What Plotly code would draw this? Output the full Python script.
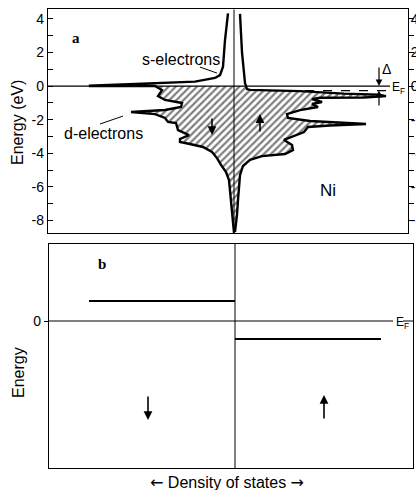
import plotly.graph_objects as go

W, H = 416, 490

# ---------------- Panel a: Ni density of states (arbitrary DOS units) ----------------
# spin-down (drawn to the left, negative), unoccupied part above E_F
e_down_empty = [4.33, 2.74, 1.15, 0.65, 0.48, 0.26, 0.02, 0.0]
dos_down_empty = [-0.6, -0.9, -1.1, -1.4, -1.9, -3.9, -14.4, -14.4]
# spin-down, occupied part (hatched)
e_down = [0.00, -0.24, -0.60, -0.83, -1.01, -1.25, -1.43, -1.55, -1.67, -1.90, -2.14, -2.20,
          -2.62, -2.92, -3.15, -3.33, -3.45, -3.63, -3.93, -4.29, -4.70, -5.12, -5.60, -6.49,
          -7.38, -8.27, -8.75]
dos_down = [-7.9, -7.2, -7.6, -6.9, -5.2, -5.3, -6.9, -10.3, -7.9, -6.9, -6.6, -5.8,
            -5.6, -4.5, -5.4, -5.4, -4.4, -3.1, -2.2, -1.7, -1.3, -0.8, -0.5, -0.35,
            -0.2, -0.05, 0.0]
# spin-up (drawn to the right), s-like part above the d band
e_up_empty = [4.30, 2.00, 0.18, -0.18]
dos_up_empty = [0.6, 0.8, 1.1, 1.3]
# spin-up d band (fully occupied, hatched)
e_up = [-0.23, -0.30, -0.45, -0.52, -0.60, -0.68, -0.70, -0.78, -0.95, -1.07, -1.25, -1.43,
        -1.67, -1.90, -2.08, -2.26, -2.35, -2.44, -2.74, -3.04, -3.21, -3.51, -3.81, -4.05,
        -4.17, -4.40, -4.76, -5.30, -5.89, -6.79, -7.68, -8.69]
dos_up = [1.6, 6.6, 11.0, 14.5, 15.2, 13.0, 8.6, 7.8, 8.8, 7.8, 8.4, 6.6,
          5.3, 5.4, 7.6, 13.2, 9.6, 7.4, 7.0, 5.6, 5.0, 5.8, 5.9, 5.1,
          2.8, 1.6, 0.9, 0.6, 0.5, 0.4, 0.3, 0.1]
exchange_top = -0.27          # top of spin-up d band (dashed line)
energy_ticks = [-8, -6, -4, -2, 0, 2, 4]
energy_ticklabels = ["-8", "-6", "-4", "-2", "0", "2", "4"]

# ---------------- Panel b: schematic ----------------
level_down = 1.0    # spin-down level (above E_F)
level_up = -0.9     # spin-up level (below E_F)
level_width = 14.6

FONT = "Liberation Sans, Arial, sans-serif"
HATCH = dict(shape="/", fgcolor="black", bgcolor="white", size=5, solidity=0.45)

fig = go.Figure()

# hatched fills
fig.add_trace(go.Scatter(
    x=[0] + dos_down + [0], y=[0] + e_down + [e_down[-1]],
    mode="none", fill="toself", fillcolor="white", fillpattern=HATCH,
    xaxis="x", yaxis="y", hoverinfo="skip"))
fig.add_trace(go.Scatter(
    x=[0, 1.15, 1.3] + dos_up + [0], y=[0, 0, -0.18] + e_up + [e_up[-1]],
    mode="none", fill="toself", fillcolor="white", fillpattern=HATCH,
    xaxis="x", yaxis="y", hoverinfo="skip"))

# outlines
fig.add_trace(go.Scatter(
    x=dos_down_empty + dos_down, y=e_down_empty + e_down, mode="lines",
    line=dict(color="black", width=2.4), xaxis="x", yaxis="y", hoverinfo="skip"))
fig.add_trace(go.Scatter(
    x=dos_up_empty + dos_up, y=e_up_empty + e_up, mode="lines",
    line=dict(color="black", width=2.4), xaxis="x", yaxis="y", hoverinfo="skip"))

# dummy trace for right-hand energy axis
fig.add_trace(go.Scatter(x=[0], y=[0], mode="markers", marker=dict(opacity=0),
                         xaxis="x", yaxis="y3", hoverinfo="skip", showlegend=False))

# panel b levels
fig.add_trace(go.Scatter(x=[-level_width, 0], y=[level_down, level_down], mode="lines",
                         line=dict(color="black", width=2), xaxis="x2", yaxis="y2"))
fig.add_trace(go.Scatter(x=[0, level_width], y=[level_up, level_up], mode="lines",
                         line=dict(color="black", width=2), xaxis="x2", yaxis="y2"))

shapes = [
    # panel a: center line, E_F line, dashed line
    dict(type="line", xref="x", yref="y", x0=0, x1=0, y0=-8.77, y1=4.57,
         line=dict(color="black", width=1)),
    dict(type="line", xref="x", yref="y", x0=-18.6, x1=15.6, y0=0, y1=0,
         line=dict(color="black", width=1.2)),
    dict(type="line", xref="x", yref="y", x0=3.5, x1=15.4, y0=exchange_top, y1=exchange_top,
         line=dict(color="black", width=1.2, dash="dash")),
    # leader lines
    dict(type="line", xref="x", yref="y", x0=-3.4, y0=1.13, x1=-1.7, y1=0.77,
         line=dict(color="black", width=1)),
    dict(type="line", xref="x", yref="y", x0=-13.4, y0=-2.26, x1=-11.1, y1=-1.79,
         line=dict(color="black", width=1)),
    # panel b: center line and E_F line
    dict(type="line", xref="x2", yref="y2", x0=0, x1=0, y0=-7.35, y1=3.85,
         line=dict(color="black", width=1)),
    dict(type="line", xref="x2", yref="y2", x0=-18.6, x1=15.8, y0=0, y1=0,
         line=dict(color="black", width=1)),
    dict(type="line", xref="x2", yref="y2", x0=16.8, x1=17.8, y0=0, y1=0,
         line=dict(color="black", width=1)),
]

def arrow(xref, yref, x, y0, y1, width=1.6):
    return dict(xref=xref, yref=yref, axref=xref, ayref=yref, x=x, y=y1, ax=x, ay=y0,
                text="", showarrow=True, arrowhead=2, arrowsize=1.1, arrowwidth=width,
                arrowcolor="black")

annotations = [
    arrow("x", "y", -2.2, -1.85, -2.92),
    arrow("x", "y", 2.6, -2.80, -1.67),
    arrow("x", "y", 14.5, 1.19, 0.0, 1.2),
    arrow("x", "y", 14.5, -1.25, exchange_top, 1.2),
    arrow("x2", "y2", -8.7, -3.7, -4.95),
    arrow("x2", "y2", 8.9, -4.95, -3.7),
    dict(xref="x", yref="y", x=-15.8, y=2.86, text="<b>a</b>", showarrow=False,
         font=dict(family="Liberation Serif, serif", size=15, color="black")),
    dict(xref="x2", yref="y2", x=-13.3, y=2.85, text="<b>b</b>", showarrow=False,
         font=dict(family="Liberation Serif, serif", size=15, color="black")),
    dict(xref="x", yref="y", x=-5.3, y=1.61, text="s-electrons", showarrow=False,
         font=dict(family=FONT, size=16, color="black")),
    dict(xref="x", yref="y", x=-13.1, y=-2.8, text="d-electrons", showarrow=False,
         font=dict(family=FONT, size=16, color="black")),
    dict(xref="x", yref="y", x=9.4, y=-6.25, text="Ni", showarrow=False,
         font=dict(family=FONT, size=17, color="black")),
    dict(xref="x", yref="y", x=15.2, y=1.02, text="Δ", showarrow=False,
         font=dict(family=FONT, size=14, color="black")),
    dict(xref="x", yref="y", x=15.6, y=-0.1, xanchor="left", yanchor="middle",
         text="E<sub>F</sub>", showarrow=False,
         font=dict(family=FONT, size=12, color="black")),
    dict(xref="x2", yref="y2", x=15.85, y=-0.1, xanchor="left", yanchor="middle",
         text="E<sub>F</sub>", showarrow=False,
         font=dict(family=FONT, size=12, color="black")),
    dict(xref="paper", yref="paper", x=17 / W, y=1 - 123 / H, xanchor="center",
         yanchor="middle", text="Energy (eV)", textangle=-90, showarrow=False,
         font=dict(family=FONT, size=16, color="black")),
    dict(xref="paper", yref="paper", x=18 / W, y=1 - 373 / H, xanchor="center",
         yanchor="middle", text="Energy", textangle=-90, showarrow=False,
         font=dict(family=FONT, size=16, color="black")),
    dict(xref="paper", yref="paper", x=227 / W, y=1 - 482 / H, xanchor="center",
         yanchor="middle",
         text="<span style='font-family:DejaVu Sans'>←</span> Density of states "
              "<span style='font-family:DejaVu Sans'>→</span>",
         showarrow=False, font=dict(family=FONT, size=16, color="black")),
]

axis_common = dict(showgrid=False, zeroline=False, linecolor="black", linewidth=1.3,
                   mirror=True, showline=True, automargin=False)

fig.update_layout(
    width=W, height=H, margin=dict(l=0, r=0, t=0, b=0, autoexpand=False),
    paper_bgcolor="white", plot_bgcolor="rgba(0,0,0,0)", showlegend=False,
    xaxis=dict(domain=[48 / W, 408 / W], range=[-18.6, 17.4], showticklabels=False,
               ticks="", anchor="y", **axis_common),
    yaxis=dict(domain=[1 - 233.3 / H, 1 - 9.3 / H], range=[-8.77, 4.57], anchor="x",
               tickvals=energy_ticks, ticktext=energy_ticklabels, ticks="inside", ticklen=5,
               tickwidth=1.2, tickcolor="black",
               minor=dict(dtick=1, tick0=1, ticks="inside", ticklen=5, tickcolor="black"),
               tickfont=dict(family=FONT, size=14, color="black"), **axis_common),
    yaxis3=dict(overlaying="y", side="right", anchor="x", range=[-8.77, 4.57],
                tickvals=energy_ticks, ticktext=energy_ticklabels, ticks="outside", ticklen=5,
                tickwidth=1.2, tickcolor="black", showgrid=False, zeroline=False,
                automargin=False, ticklabelstandoff=-6,
                minor=dict(dtick=1, tick0=1, ticks="outside", ticklen=5, tickcolor="black"),
                tickfont=dict(family=FONT, size=14, color="black"), showline=False),
    xaxis2=dict(domain=[49 / W, 413 / W], range=[-18.6, 17.8], showticklabels=False,
                ticks="", anchor="y2", **axis_common),
    yaxis2=dict(domain=[1 - 468 / H, 1 - 244 / H], range=[-7.35, 3.85], anchor="x2",
                tickvals=[0], ticktext=["0"], ticks="outside", ticklen=4, tickcolor="black",
                tickfont=dict(family=FONT, size=14, color="black"), **axis_common),
    shapes=shapes, annotations=annotations,
)

fig.write_html("out.html", config={"displayModeBar": False},
               post_script="document.body.style.margin='0px';")
